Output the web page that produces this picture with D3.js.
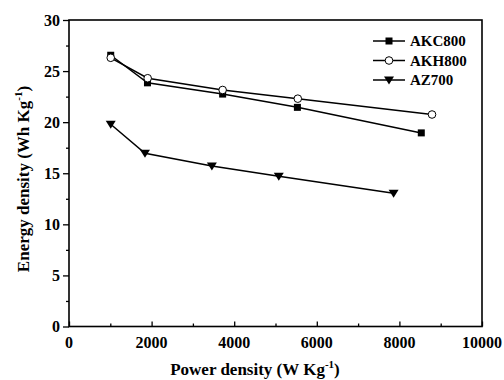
<!DOCTYPE html>
<html>
<head>
<meta charset="utf-8">
<script src="https://cdn.jsdelivr.net/npm/d3@7"></script>
<style>
  html, body { margin: 0; padding: 0; background: #fff; }
  svg { display: block; }
</style>
</head>
<body>
<svg id="chart" width="504" height="380"></svg>
<script>
// Ragone plot data: power density (W/kg) vs energy density (Wh/kg)
const seriesNames = ["AKC800", "AKH800", "AZ700"];
const akc800Power  = [1010, 1900, 3720, 5530, 8530];
const akc800Energy = [26.55, 23.85, 22.75, 21.45, 18.95];
const akh800Power  = [1010, 1905, 3720, 5540, 8790];
const akh800Energy = [26.3, 24.3, 23.15, 22.3, 20.75];
const az700Power   = [1010, 1840, 3460, 5080, 7860];
const az700Energy  = [19.8, 16.95, 15.7, 14.7, 13.05];
const xTicks = [0, 2000, 4000, 6000, 8000, 10000];
const yTicks = [0, 5, 10, 15, 20, 25, 30];

const FONT = "'Liberation Serif', 'Times New Roman', Times, 'DejaVu Serif', serif";

const svg = d3.select("#chart")
  .attr("font-family", FONT)
  .attr("font-weight", "bold");
const plot = { left: 69, right: 482, top: 20, bottom: 326.5 };

const x = d3.scaleLinear().domain([0, 10000]).range([plot.left, plot.right]);
const y = d3.scaleLinear().domain([0, 30]).range([plot.bottom, plot.top]);

const series = [
  { name: seriesNames[0], power: akc800Power, energy: akc800Energy, marker: "square" },
  { name: seriesNames[1], power: akh800Power, energy: akh800Energy, marker: "circle" },
  { name: seriesNames[2], power: az700Power,  energy: az700Energy,  marker: "triangle" }
];

function label(sel) {
  return sel.attr("font-family", FONT).attr("font-weight", "bold").attr("fill", "#000");
}

// Frame
svg.append("rect")
  .attr("x", plot.left).attr("y", plot.top)
  .attr("width", plot.right - plot.left).attr("height", plot.bottom - plot.top)
  .attr("fill", "none").attr("stroke", "#000").attr("stroke-width", 1.6);

// X axis: ticks point inward
const xAxis = svg.append("g").attr("transform", `translate(0,${plot.bottom})`);
xAxis.call(d3.axisBottom(x).tickValues(d3.range(0, 10001, 1000)).tickSize(-5).tickFormat(""))
  .call(g => g.select(".domain").remove())
  .selectAll(".tick line")
  .attr("stroke-width", 1.3)
  .attr("y2", d => (d % 2000 === 0 ? -5 : -3));
xAxis.selectAll(".tick text").remove();
xAxis.selectAll(".xlab").data(xTicks).enter().append("text")
  .attr("class", "xlab")
  .attr("x", d => x(d)).attr("y", 21)
  .attr("text-anchor", "middle")
  .attr("font-size", 16)
  .call(label)
  .text(d => d);

// Y axis: ticks point outward
const yAxis = svg.append("g").attr("transform", `translate(${plot.left},0)`);
yAxis.call(d3.axisLeft(y).tickValues(d3.range(0, 30.1, 2.5)).tickSize(6).tickFormat(""))
  .call(g => g.select(".domain").remove())
  .selectAll(".tick line")
  .attr("stroke-width", 1.3)
  .attr("x2", d => (d % 5 === 0 ? -6 : -3));
yAxis.selectAll(".tick text").remove();
yAxis.selectAll(".ylab").data(yTicks).enter().append("text")
  .attr("class", "ylab")
  .attr("x", -9).attr("y", d => y(d))
  .attr("dy", "0.35em")
  .attr("text-anchor", "end")
  .attr("font-size", 16)
  .call(label)
  .text(d => d);

// Axis titles
const xTitle = svg.append("text")
  .attr("x", 255).attr("y", 375)
  .attr("text-anchor", "middle")
  .attr("font-size", 17)
  .call(label);
xTitle.append("tspan").text("Power density (W Kg");
xTitle.append("tspan").attr("dy", -7).attr("font-size", 11).text("-1");
xTitle.append("tspan").attr("dy", 7).text(")");

const yTitle = svg.append("text")
  .attr("transform", "translate(29,179) rotate(-90)")
  .attr("text-anchor", "middle")
  .attr("font-size", 17)
  .call(label);
yTitle.append("tspan").text("Energy density (Wh Kg");
yTitle.append("tspan").attr("dy", -7).attr("font-size", 11).text("-1");
yTitle.append("tspan").attr("dy", 7).text(")");

// Marker drawing
function drawMarker(sel, type) {
  if (type === "square") {
    sel.append("rect").attr("x", -3.5).attr("y", -3.5).attr("width", 7).attr("height", 7)
      .attr("fill", "#000");
  } else if (type === "circle") {
    sel.append("circle").attr("r", 3.8).attr("fill", "#fff")
      .attr("stroke", "#000").attr("stroke-width", 1);
  } else {
    sel.append("path").attr("d", "M-5,-3.5L5,-3.5L0,4.5Z").attr("fill", "#000");
  }
}

const line = d3.line().x(d => x(d[0])).y(d => y(d[1]));

series.forEach(s => {
  const pts = s.power.map((p, i) => [p, s.energy[i]]);
  svg.append("path").datum(pts)
    .attr("d", line)
    .attr("fill", "none").attr("stroke", "#000").attr("stroke-width", 1.5);
  svg.selectAll(null).data(pts).enter().append("g")
    .attr("transform", d => `translate(${x(d[0])},${y(d[1])})`)
    .each(function () { drawMarker(d3.select(this), s.marker); });
});

// Legend
const legend = svg.append("g");
series.forEach((s, i) => {
  const ly = 41 + i * 19.5;
  legend.append("line").attr("x1", 373).attr("x2", 405).attr("y1", ly).attr("y2", ly)
    .attr("stroke", "#000").attr("stroke-width", 1.5);
  const m = legend.append("g").attr("transform", `translate(389,${ly})`);
  drawMarker(m, s.marker);
  legend.append("text").attr("x", 410).attr("y", ly).attr("dy", "0.35em")
    .attr("font-size", 15)
    .call(label)
    .text(s.name);
});
</script>
</body>
</html>
